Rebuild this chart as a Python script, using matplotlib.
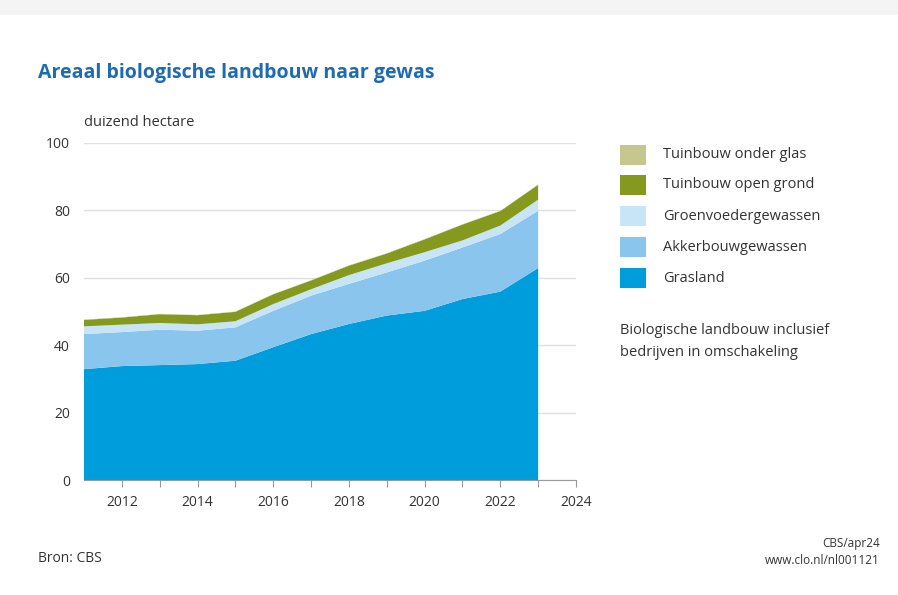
import numpy as np
import matplotlib
matplotlib.use("Agg")
from matplotlib import pyplot as plt
from matplotlib.patches import Rectangle

plt.rcParams['font.family'] = ['Open Sans', 'DejaVu Sans']

years = [2011, 2012, 2013, 2014, 2015, 2016, 2017, 2018, 2019, 2020, 2021, 2022, 2023]
grasland = [32.9, 33.8, 34.1, 34.4, 35.4, 39.4, 43.3, 46.3, 48.8, 50.2, 53.7, 55.9, 62.9]
akkerbouw = [10.4, 10.1, 10.5, 9.9, 9.9, 10.8, 11.4, 11.9, 12.8, 14.9, 15.3, 17.1, 17.0]
groenvoeder = [2.3, 2.2, 2.0, 1.9, 1.8, 2.0, 1.9, 2.6, 2.7, 2.5, 2.1, 2.5, 3.3]
open_grond = [1.9, 2.1, 2.6, 2.7, 2.8, 2.9, 2.6, 2.8, 2.9, 3.8, 4.7, 4.3, 4.4]
onder_glas = [0.1, 0.1, 0.1, 0.1, 0.1, 0.1, 0.1, 0.1, 0.1, 0.1, 0.1, 0.1, 0.1]

labels = ['Grasland', 'Akkerbouwgewassen', 'Groenvoedergewassen',
          'Tuinbouw open grond', 'Tuinbouw onder glas']
colors = ['#009ddd', '#8ac5ee', '#c8e5f8', '#86991f', '#c5c78e']
text_col = '#333333'

fig = plt.figure(figsize=(8.98, 5.95), dpi=100)
fig.patch.set_facecolor('white')
fig.patches.append(Rectangle((0, 1 - 15 / 595), 1, 15 / 595, transform=fig.transFigure,
                             facecolor='#f4f4f4', edgecolor='none'))

ax = fig.add_axes([84 / 898, 115 / 595, 492 / 898, 337 / 595])
ax.stackplot(years, grasland, akkerbouw, groenvoeder, open_grond, onder_glas,
             colors=colors, linewidth=0, zorder=2)

ax.set_xlim(2011, 2024)
ax.set_ylim(0, 100)
ax.set_yticks(range(0, 101, 20))
ax.set_xticks(range(2012, 2025))
ax.set_xticklabels([str(y) if y % 2 == 0 else '' for y in range(2012, 2025)])
ax.grid(axis='y', color='#e0e0e0', linewidth=1, zorder=0)
for s in ['top', 'right', 'left']:
    ax.spines[s].set_visible(False)
ax.spines['bottom'].set_color('#999999')
ax.tick_params(axis='y', length=0, pad=10, labelsize=10, labelcolor=text_col)
ax.tick_params(axis='x', length=5, color='#999999', pad=6, labelsize=10, labelcolor=text_col)

fig.text(38 / 898, 1 - 73 / 595, 'Areaal biologische landbouw naar gewas', fontsize=14,
         fontweight='bold', color='#1f6bb0', va='center')
fig.text(84 / 898, 1 - 123 / 595, 'duizend hectare', fontsize=10.5, color=text_col, va='center')

# legend, top entry first
rows = [155, 185, 216, 247, 278]
for i, lab in enumerate(labels[::-1]):
    y = rows[i]
    fig.patches.append(Rectangle((620 / 898, 1 - (y + 10) / 595), 26 / 898, 20 / 595,
                                 transform=fig.transFigure, facecolor=colors[::-1][i],
                                 edgecolor='none'))
    fig.text(663 / 898, 1 - y / 595, lab, fontsize=10.5, color=text_col, va='center')

fig.text(620 / 898, 1 - 330 / 595, 'Biologische landbouw inclusief', fontsize=10.5,
         color=text_col, va='center')
fig.text(620 / 898, 1 - 353 / 595, 'bedrijven in omschakeling', fontsize=10.5,
         color=text_col, va='center')

fig.text(38 / 898, 1 - 558 / 595, 'Bron: CBS', fontsize=10, color=text_col, va='center')
fig.text(880 / 898, 1 - 543 / 595, 'CBS/apr24', fontsize=8.5, color=text_col,
         va='center', ha='right')
fig.text(880 / 898, 1 - 561 / 595, 'www.clo.nl/nl001121', fontsize=8.5, color=text_col,
         va='center', ha='right')

plt.savefig('out.png', dpi=100)
